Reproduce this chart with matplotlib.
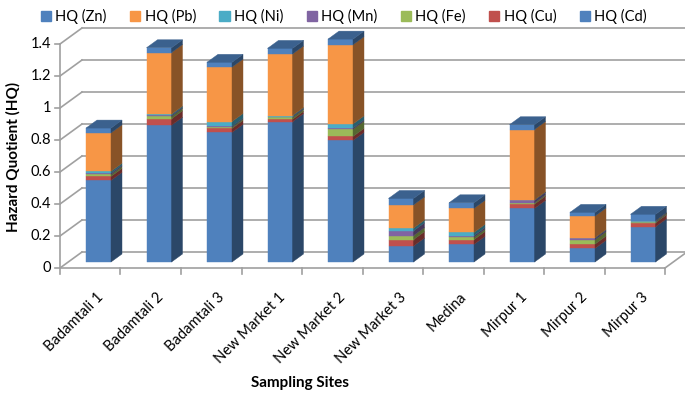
import matplotlib
matplotlib.use("Agg")
import matplotlib.pyplot as plt
from matplotlib.patches import Polygon, Patch
import matplotlib.colors as mcolors
import numpy as np

plt.rcParams['font.family'] = ['Lato', 'DejaVu Sans']

sites = ["Badamtali 1", "Badamtali 2", "Badamtali 3", "New Market 1", "New Market 2",
         "New Market 3", "Medina", "Mirpur 1", "Mirpur 2", "Mirpur 3"]
hq_cd = [0.51, 0.855, 0.81, 0.877, 0.76, 0.10, 0.11, 0.335, 0.085, 0.22]
hq_cu = [0.025, 0.04, 0.025, 0.015, 0.025, 0.04, 0.03, 0.027, 0.027, 0.025]
hq_fe = [0.012, 0.015, 0.008, 0.012, 0.045, 0.025, 0.015, 0.008, 0.027, 0.006]
hq_mn = [0.008, 0.006, 0.005, 0.005, 0.008, 0.03, 0.01, 0.015, 0.01, 0.002]
hq_ni = [0.012, 0.008, 0.03, 0.006, 0.025, 0.017, 0.02, 0.003, 0.003, 0.002]
hq_pb = [0.24, 0.385, 0.34, 0.385, 0.495, 0.145, 0.15, 0.44, 0.135, 0.003]
hq_zn = [0.03, 0.03, 0.03, 0.035, 0.035, 0.04, 0.035, 0.03, 0.023, 0.04]
yticks = [0, 0.2, 0.4, 0.6, 0.8, 1, 1.2, 1.4]
ytick_labels = ["0", "0.2", "0.4", "0.6", "0.8", "1", "1.2", "1.4"]

# stacking order bottom -> top
series = [("HQ (Cd)", hq_cd, "#4F81BD"), ("HQ (Cu)", hq_cu, "#C0504D"),
          ("HQ (Fe)", hq_fe, "#9BBB59"), ("HQ (Mn)", hq_mn, "#8064A2"),
          ("HQ (Ni)", hq_ni, "#4BACC6"), ("HQ (Pb)", hq_pb, "#F79646"),
          ("HQ (Zn)", hq_zn, "#4F81BD")]

W, H = 685, 397
fig = plt.figure(figsize=(W / 100, H / 100), dpi=100)
ax = fig.add_axes([0, 0, 1, 1])
ax.axis("off")

PX, PY = 60.5, 160.0         # pixels per category / per unit
X0, Y0 = 98.5, 262.0          # pixel of category 0 center / value 0 (bar plane)
ax.set_xlim(-X0 / PX, (W - X0) / PX)
ax.set_ylim((Y0 - H) / PY, Y0 / PY)

fdx, fdy = -8.25 / PX, -6 / PY    # front plane offset
bdx, bdy = 13.75 / PX, 10 / PY    # back plane offset
ddx, ddy = 11 / PX, 8 / PY        # bar depth
bw = 25 / PX

n = len(sites)
gc = "#a0a0a0"
glw = 1.2
xl, xr = -0.5, n - 0.5

# walls / gridlines
for v in yticks:
    ax.plot([xl + fdx, xl + bdx], [v + fdy, v + bdy], color=gc, lw=glw, zorder=1)
    ax.plot([xl + bdx, xr + bdx], [v + bdy, v + bdy], color=gc, lw=glw, zorder=1)
    ax.plot([xl + fdx - 5 / PX, xl + fdx], [v + fdy, v + fdy], color=gc, lw=glw, zorder=1)
ax.plot([xl + fdx, xl + fdx], [fdy, yticks[-1] + fdy], color=gc, lw=glw, zorder=1)
ax.plot([xl + fdx, xr + fdx], [fdy, fdy], color=gc, lw=glw, zorder=1)
ax.plot([xr + fdx, xr + bdx], [fdy, bdy], color=gc, lw=glw, zorder=1)
for b in np.arange(n + 1) - 0.5:
    ax.plot([b + fdx, b + fdx], [fdy, fdy - 6 / PY], color=gc, lw=glw, zorder=1)

# y tick labels
for v, lab in zip(yticks, ytick_labels):
    ax.text(xl + fdx - 9 / PX, v + fdy, lab, ha="right", va="center", fontsize=10.5, color="#000000")

def darker(c, f):
    r, g, b = mcolors.to_rgb(c)
    return (r * f, g * f, b * f)

# bars
x = np.arange(n)
bottoms = np.zeros(n)
for si, (name, vals, col) in enumerate(series):
    vals = np.array(vals)
    ax.bar(x, vals, width=bw, bottom=bottoms, color=col, edgecolor=col, lw=0.3, zorder=3)
    for i in range(n):
        b, t = bottoms[i], bottoms[i] + vals[i]
        xr_ = x[i] + bw / 2
        ax.add_patch(Polygon([(xr_, b), (xr_ + ddx, b + ddy), (xr_ + ddx, t + ddy), (xr_, t)],
                             closed=True, facecolor=darker(col, 0.55), edgecolor=darker(col, 0.55),
                             lw=0.3, zorder=3))
        if si == len(series) - 1:
            xl_ = x[i] - bw / 2
            ax.add_patch(Polygon([(xl_, t), (xr_, t), (xr_ + ddx, t + ddy), (xl_ + ddx, t + ddy)],
                                 closed=True, facecolor=darker(col, 0.75), edgecolor=darker(col, 0.75),
                                 lw=0.3, zorder=3))
    bottoms = bottoms + vals

# x tick labels
for i, s in enumerate(sites):
    ax.text(i + fdx + 6 / PX, fdy - 22 / PY, s, rotation=45, rotation_mode="anchor",
            ha="right", va="top", fontsize=10.5, color="#000000")

# axis titles
ax.text((300 - X0) / PX, (Y0 - 383) / PY, "Sampling Sites", ha="center", va="center",
        fontsize=11, fontweight="bold")
ax.text((13 - X0) / PX, (Y0 - 157) / PY, "Hazard Quotient (HQ)", ha="center", va="center",
        rotation=90, fontsize=11, fontweight="bold")

# legend
handles = [Patch(facecolor=col, edgecolor=col, label=name) for name, vals, col in series[::-1]]
fig.legend(handles=handles, loc="upper center", bbox_to_anchor=(0.502, 1.01), ncol=7,
           frameon=False, fontsize=10.5, handlelength=0.7, handleheight=0.7,
           handletextpad=0.3, columnspacing=1.6)

fig.savefig("out.png", dpi=100)
